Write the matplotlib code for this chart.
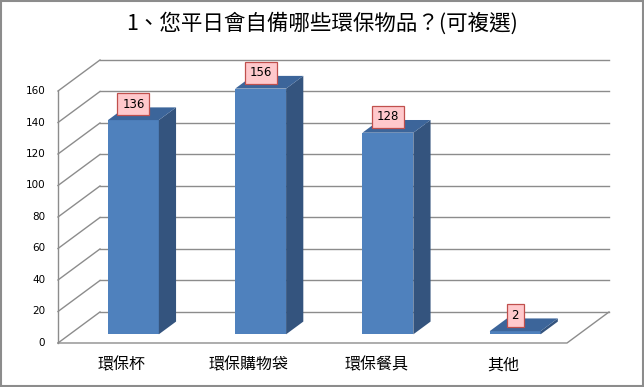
import matplotlib.pyplot as plt
from matplotlib.patches import Polygon, Rectangle

plt.rcParams['font.family'] = ['Noto Sans CJK TC', 'DejaVu Sans']

# 資料
categories = ['環保杯', '環保購物袋', '環保餐具', '其他']
counts = [136, 156, 128, 2]
yticks = [0, 20, 40, 60, 80, 100, 120, 140, 160]
title = '1、您平日會自備哪些環保物品？(可複選)'

# 假 3D 的斜投影參數（類別單位 / 數值單位）
DX, DY = 0.33, 19.7      # 整個深度的偏移
D0, D1 = 0.28, 0.69      # 柱子前後面所在深度
BW = 0.40                # 柱寬
YMAX = 160


def proj(x, y, d):
    return (x + d * DX, y + d * DY)


fig = plt.figure(figsize=(6.44, 3.87), dpi=100, facecolor='white')
ax = fig.add_axes([0, 0, 1, 1])
ax.set_xlim(-0.9558, 4.105)
ax.set_ylim(-27.94, 217.78)
ax.axis('off')

grid_c = '#8c8c8c'
x0, x1 = -0.5, len(categories) - 0.5

# 格線：背牆 + 左牆
for v in yticks:
    bx0, by = proj(x0, v, 1)
    bx1, _ = proj(x1, v, 1)
    ax.plot([bx0, bx1], [by, by], color=grid_c, lw=1.0, zorder=1)
    ax.plot([x0, bx0], [v, by], color=grid_c, lw=1.0, zorder=1)
    ax.text(x0 - 0.1, v, str(v), ha='right', va='center', fontsize=7.5,
            family='DejaVu Sans', color='black')

# 左牆前緣與地板
ax.plot([x0, x0], [0, YMAX], color=grid_c, lw=1.0, zorder=1)
fx, fy = proj(x1, 0, 1)
ax.plot([x0, x1, fx], [0, 0, fy], color=grid_c, lw=1.0, zorder=1)

# 柱子
front_c = '#4f81bd'
side_c = '#34547e'
top_c = '#3c659a'
for i, (cat, v) in enumerate(zip(categories, counts)):
    l, r = i - BW / 2, i + BW / 2
    fl = proj(l, 0, D0)
    fr = proj(r, 0, D0)
    flt = proj(l, v, D0)
    frt = proj(r, v, D0)
    brb = proj(r, 0, D1)
    brt = proj(r, v, D1)
    blt = proj(l, v, D1)
    ax.add_patch(Polygon([fl, fr, frt, flt], closed=True, fc=front_c,
                         ec='none', zorder=3))
    ax.add_patch(Polygon([fr, brb, brt, frt], closed=True, fc=side_c,
                         ec='none', zorder=3))
    ax.add_patch(Polygon([flt, frt, brt, blt], closed=True, fc=top_c,
                         ec='none', zorder=3))

    # 數值標籤
    lx = proj(i, v, D0)[0]
    ly = proj(i, v, D1)[1] + 2
    ax.text(lx, ly, str(v), ha='center', va='center', fontsize=8.5,
            family='DejaVu Sans', zorder=5,
            bbox=dict(boxstyle='square,pad=0.4', fc='#ffc9cc',
                      ec='#c0504d', lw=0.9))

    # 類別標籤
    ax.text(i, -14, cat, ha='center', va='center', fontsize=11.5,
            color='black')

ax.text(0.5, 0.94, title, transform=ax.transAxes, ha='center', va='center',
        fontsize=15.5, color='black')

# 外框
fig.patches.append(Rectangle((0.0015, 0.0025), 0.997, 0.995,
                             transform=fig.transFigure, fill=False,
                             ec='#8c8c8c', lw=1.5))

fig.savefig('out.png', dpi=100, facecolor='white')
